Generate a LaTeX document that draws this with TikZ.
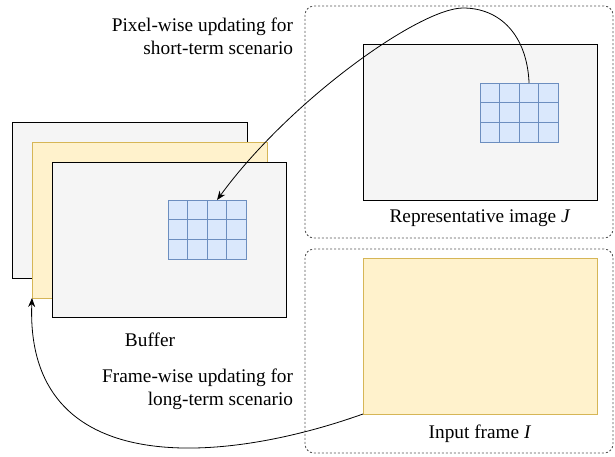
\documentclass[tikz,border=0pt]{standalone}
\usepackage{fontspec}
\setmainfont{Liberation Serif}
\usetikzlibrary{arrows.meta,calc}
\definecolor{framegray}{HTML}{F5F5F5}
\definecolor{yfill}{HTML}{FFF2CC}
\definecolor{ydraw}{HTML}{D6B656}
\definecolor{bfill}{HTML}{DAE8FC}
\definecolor{bdraw}{HTML}{6C8EBF}
\definecolor{dashgray}{HTML}{555555}
\begin{document}
\begin{tikzpicture}[x=1pt,y=-1pt,
  every node/.style={inner sep=0pt, outer sep=0pt},
  grayframe/.style={draw=black, fill=framegray, line width=1pt, anchor=north west},
  yellowframe/.style={draw=ydraw, fill=yfill, line width=1pt, anchor=north west},
  cellgrid/.style={draw=bdraw, fill=bfill, line width=0.9pt, anchor=north west,
                   minimum width=78.5pt, minimum height=59pt},
  gridline/.style={draw=bdraw, line width=0.9pt},
  groupbox/.style={draw=dashgray, dash pattern=on 2pt off 2pt, rounded corners=9pt,
                   line width=0.9pt, anchor=north west},
  lbl/.style={font=\rmfamily\fontsize{19.3}{23}\selectfont},
  flow/.style={draw=black, line width=0.8pt, -{Stealth[length=9pt,width=7pt]}}
]
\useasboundingbox (0,0) rectangle (615,456);

% dashed group boxes
\node[groupbox, minimum width=308pt, minimum height=232pt] (topgroup) at (305,6) {};
\node[groupbox, minimum width=308pt, minimum height=204pt] (botgroup) at (305,249) {};

% representative image and input frame
\node[grayframe, minimum width=234pt, minimum height=156pt] (rep) at (363,44) {};
\node[yellowframe, minimum width=234pt, minimum height=156pt] (input) at (363,258) {};

% buffer stack
\node[grayframe, minimum width=235pt, minimum height=156pt] (bufback) at (12,122) {};
\node[yellowframe, minimum width=235pt, minimum height=156pt] (bufmid) at (32,142) {};
\node[grayframe, minimum width=234pt, minimum height=155pt] (buffront) at (52,162) {};

% pixel grids
\node[cellgrid] (gridJ) at (480,83) {};
\node[cellgrid] (gridB) at (168,200) {};
\foreach \g in {gridJ,gridB}{
  \foreach \i in {1,2,3}
    \draw[gridline] ($(\g.north west)!\i/4!(\g.north east)$) -- ($(\g.south west)!\i/4!(\g.south east)$);
  \foreach \j in {1,2}
    \draw[gridline] ($(\g.north west)!\j/3!(\g.south west)$) -- ($(\g.north east)!\j/3!(\g.south east)$);
}

% labels (base anchor of a two-line node sits on its last line)
\node[lbl, align=right, anchor=base east] (pixlbl) at (293,54) {Pixel-wise updating for\\short-term scenario};
\node[lbl, align=right, anchor=base east] (framelbl) at (293,405) {Frame-wise updating for\\long-term scenario};
\node[lbl, anchor=base] (buflbl) at (150,346) {Buffer};
\node[lbl, anchor=base] (replbl) at (480,222) {Representative image \textit{J}};
\node[lbl, anchor=base] (inlbl) at (480,438) {Input frame \textit{I}};

% update paths
\coordinate (peak) at (463,8);
\draw[flow] ($(gridJ.north west)!0.625!(gridJ.north east)$)
  .. controls (527,35) and (500,8) .. (peak)
  .. controls (420,8) and (290,100) .. ($(gridB.north west)!0.625!(gridB.north east)$);
\draw[flow] (input.south west) .. controls (220,465) and (25,480) .. (bufmid.south west);
\end{tikzpicture}
\end{document}
